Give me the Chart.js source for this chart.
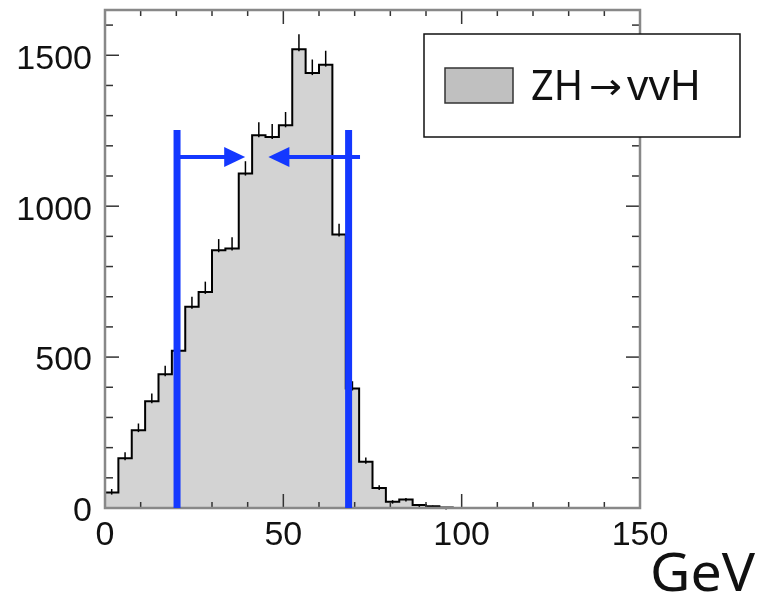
<!DOCTYPE html>
<html>
<head>
<meta charset="utf-8">
<script src="https://cdn.jsdelivr.net/npm/chart.js@4/dist/chart.umd.min.js"></script>
<style>
  html, body { margin: 0; padding: 0; background: #fff; }
</style>
</head>
<body>
<canvas id="chart" width="759" height="598"></canvas>
<script>
// --- data ---
const binWidth = 3.75;   // GeV, 40 bins from 0 to 150
const counts = [51, 165, 258, 354, 443, 521, 667, 716, 854, 860,
                1108, 1235, 1229, 1268, 1520, 1441, 1469, 906, 396, 153,
                66, 21, 28, 10, 6, 2, 0, 0, 0, 0,
                0, 0, 0, 0, 0, 0, 0, 0, 0, 0];
const errors = [12, 20, 22, 25, 28, 30, 33, 34, 37, 37,
                41, 43, 43, 44, 50, 45, 46, 36, 24, 14,
                9, 5, 5, 3, 2, 1, 0, 0, 0, 0,
                0, 0, 0, 0, 0, 0, 0, 0, 0, 0];
const xTicks = [0, 50, 100, 150];
const yTicks = [0, 500, 1000, 1500];
const xMinor = [10, 20, 30, 40, 60, 70, 80, 90, 110, 120, 130, 140];
const yMinor = [100, 200, 300, 400, 600, 700, 800, 900, 1100, 1200, 1300, 1400, 1600];
const cutLow = 20.2, cutHigh = 68.3, cutTop = 1252;
const arrowY = 1163;
const arrowLeft = [20.2, 39.3];    // from, tip
const arrowRight = [71.5, 45.8];   // from, tip
const legendParts = ['ZH', '→', 'vvH'];
const unitLabel = 'GeV';

// histogram outline points (left edges, stepped)
const points = [{x: 0, y: 0}];
counts.forEach((c, i) => points.push({x: i * binWidth, y: c}));
points.push({x: counts.length * binWidth, y: counts[counts.length - 1]});

const blue = '#1438ff';

// ---------------------------------------------------------------
// frame, inward ticks, error bars, cut lines, arrows, legend
// ---------------------------------------------------------------
const extras = {
  id: 'extras',
  afterDatasetsDraw(chart) {
    const {ctx, chartArea: a, scales: {x, y}} = chart;
    ctx.save();

    // error bars (upper half visible)
    ctx.strokeStyle = '#000';
    ctx.lineWidth = 1.5;
    counts.forEach((c, i) => {
      if (!c) return;
      const cx = x.getPixelForValue((i + 0.5) * binWidth);
      ctx.beginPath();
      ctx.moveTo(cx, y.getPixelForValue(c) + 2);
      ctx.lineTo(cx, y.getPixelForValue(c + errors[i]));
      ctx.stroke();
    });

    // ticks
    ctx.strokeStyle = '#333';
    ctx.lineWidth = 1.5;
    const tick = (x1, y1, x2, y2) => { ctx.beginPath(); ctx.moveTo(x1, y1); ctx.lineTo(x2, y2); ctx.stroke(); };
    xTicks.forEach(v => { const px = x.getPixelForValue(v); tick(px, a.bottom, px, a.bottom - 14); tick(px, a.top, px, a.top + 14); });
    xMinor.forEach(v => { const px = x.getPixelForValue(v); tick(px, a.bottom, px, a.bottom - 6); tick(px, a.top, px, a.top + 6); });
    yTicks.forEach(v => { const py = y.getPixelForValue(v); tick(a.left, py, a.left + 14, py); tick(a.right, py, a.right - 14, py); });
    yMinor.forEach(v => { const py = y.getPixelForValue(v); tick(a.left, py, a.left + 8, py); tick(a.right, py, a.right - 8, py); });

    // frame
    ctx.strokeStyle = '#888';
    ctx.lineWidth = 2.5;
    ctx.strokeRect(a.left, a.top, a.right - a.left, a.bottom - a.top);

    // cut lines
    ctx.strokeStyle = blue;
    ctx.lineWidth = 7;
    [cutLow, cutHigh].forEach(v => {
      const px = x.getPixelForValue(v);
      tick(px, y.getPixelForValue(0), px, y.getPixelForValue(cutTop));
    });

    // arrows
    const arrow = (from, to) => {
      const py = y.getPixelForValue(arrowY);
      const x0 = x.getPixelForValue(from), x1 = x.getPixelForValue(to);
      const dir = Math.sign(x1 - x0);
      ctx.fillStyle = blue;
      ctx.lineWidth = 4;
      tick(x0, py, x1 - dir * 18, py);
      ctx.beginPath();
      ctx.moveTo(x1, py);
      ctx.lineTo(x1 - dir * 21, py - 10);
      ctx.lineTo(x1 - dir * 21, py + 10);
      ctx.closePath();
      ctx.fill();
    };
    arrow(arrowLeft[0], arrowLeft[1]);
    arrow(arrowRight[0], arrowRight[1]);

    // legend box
    ctx.fillStyle = '#fff';
    ctx.fillRect(424, 34, 316, 103);
    ctx.strokeStyle = '#111';
    ctx.lineWidth = 1.5;
    ctx.strokeRect(424, 34, 316, 103);
    ctx.fillStyle = '#c0c0c0';
    ctx.fillRect(445, 68, 68, 35);
    ctx.strokeStyle = '#333';
    ctx.strokeRect(445, 68, 68, 35);

    const stretchText = (txt, font, left, base, width) => {
      ctx.font = font;
      const w = ctx.measureText(txt).width;
      ctx.save();
      ctx.translate(left, base);
      ctx.scale(width / w, 1);
      ctx.fillStyle = '#111';
      ctx.textBaseline = 'alphabetic';
      ctx.fillText(txt, 0, 0);
      ctx.restore();
    };
    stretchText(legendParts[0], '42px "Noto Sans"', 531, 100, 52);
    stretchText(legendParts[1], '36px "DejaVu Sans"', 589, 99, 33);
    stretchText(legendParts[2], '42px "Noto Sans"', 627, 100, 74);
    stretchText(unitLabel, '52px "Noto Sans"', 650, 591, 105);

    ctx.restore();
  }
};

const tickFont = {family: '"Liberation Sans", Arial, sans-serif', size: 34};

new Chart(document.getElementById('chart'), {
  type: 'line',
  data: {
    datasets: [{
      data: points,
      stepped: 'before',
      fill: 'origin',
      backgroundColor: '#d3d3d3',
      borderColor: '#000',
      borderWidth: 2,
      pointRadius: 0
    }]
  },
  options: {
    responsive: false,
    animation: false,
    events: [],
    layout: {padding: {top: 10, right: 119, left: 0, bottom: 0}},
    plugins: {legend: {display: false}, tooltip: {enabled: false}},
    scales: {
      x: {
        type: 'linear', min: 0, max: 150,
        grid: {display: false, drawTicks: false},
        border: {display: false},
        afterBuildTicks: s => { s.ticks = xTicks.map(v => ({value: v})); },
        afterFit: s => { s.height = 90; s.paddingLeft = 0; s.paddingRight = 0; },
        ticks: {font: tickFont, color: '#111', padding: 7, maxRotation: 0, autoSkip: false,
                callback: v => String(v)}
      },
      y: {
        min: 0, max: 1650,
        grid: {display: false, drawTicks: false},
        border: {display: false},
        afterBuildTicks: s => { s.ticks = yTicks.map(v => ({value: v})); },
        afterFit: s => { s.width = 105; s.paddingTop = 0; s.paddingBottom = 0; },
        ticks: {font: tickFont, color: '#111', padding: 13, labelOffset: 4, callback: v => String(v)}
      }
    }
  },
  plugins: [extras]
});
</script>
</body>
</html>
